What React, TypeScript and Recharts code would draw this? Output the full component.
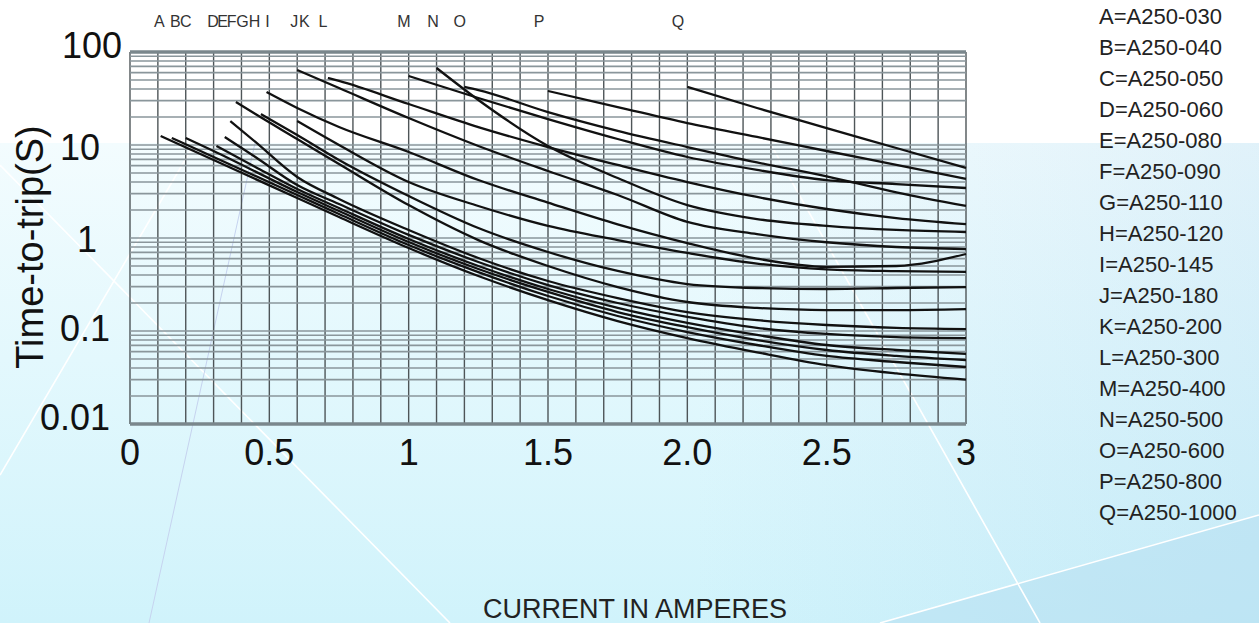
import React from 'react';
import { ComposedChart, Line, Scatter, XAxis, YAxis, CartesianGrid } from 'recharts';

// fuse letters and their part numbers (legend on the right)
const fuseLetters = ['A', 'B', 'C', 'D', 'E', 'F', 'G', 'H', 'I', 'J', 'K', 'L', 'M', 'N', 'O', 'P', 'Q'];
const partNumbers = [
  'A250-030', 'A250-040', 'A250-050', 'A250-060', 'A250-080', 'A250-090', 'A250-110', 'A250-120',
  'A250-145', 'A250-180', 'A250-200', 'A250-300', 'A250-400', 'A250-500', 'A250-600', 'A250-800', 'A250-1000',
];
// where each letter sits along the top (amperes)
const letterX = [0.105, 0.163, 0.2, 0.298, 0.332, 0.365, 0.404, 0.447, 0.493, 0.589, 0.626, 0.692, 0.983, 1.087, 1.183, 1.468, 1.966];

const gridX = [0, 0.1, 0.2, 0.3, 0.4, 0.5, 0.6, 0.7, 0.8, 0.9, 1, 1.1, 1.2, 1.3, 1.4, 1.5, 1.6, 1.7, 1.8, 1.9,
  2, 2.1, 2.2, 2.3, 2.4, 2.5, 2.6, 2.7, 2.8, 2.9, 3];
const gridY = [0.01, 0.02, 0.03, 0.04, 0.05, 0.06, 0.07, 0.08, 0.09, 0.1, 0.2, 0.3, 0.4, 0.5, 0.6, 0.7, 0.8, 0.9,
  1, 2, 3, 4, 5, 6, 7, 8, 9, 10, 20, 30, 40, 50, 60, 70, 80, 90, 100];
const decades = [0.01, 0.1, 1, 10, 100];
const decadeLabels = ['0.01', '0.1', '1', '10', '100'];
const xLabelValues = [0, 0.5, 1, 1.5, 2, 2.5, 3];
const xLabelTexts = ['0', '0.5', '1', '1.5', '2.0', '2.5', '3'];

// [current A, time-to-trip s]
const curveA = [[0.11, 12.5], [0.3, 6.9], [0.6, 2.69], [0.75, 1.68], [1, 0.78], [1.25, 0.39], [1.5, 0.215], [1.75, 0.128], [2, 0.084], [2.25, 0.059], [2.5, 0.043], [2.75, 0.035], [3, 0.03]];
const curveB = [[0.15, 11.9], [0.3, 7.43], [0.6, 2.9], [0.75, 1.81], [1, 0.84], [1.25, 0.43], [1.5, 0.238], [1.75, 0.145], [2, 0.0975], [2.25, 0.0707], [2.5, 0.0539], [2.75, 0.0464], [3, 0.041]];
const curveC = [[0.2, 11.9], [0.3, 8.62], [0.6, 3.12], [0.75, 1.95], [1, 0.905], [1.25, 0.464], [1.5, 0.263], [1.75, 0.16], [2, 0.11], [2.25, 0.08], [2.5, 0.0625], [2.75, 0.054], [3, 0.0488]];
const curveD = [[0.31, 9.76], [0.45, 5.8], [0.6, 3.36], [0.75, 2.1], [1, 0.976], [1.25, 0.5], [1.5, 0.283], [1.75, 0.177], [2, 0.122], [2.25, 0.0906], [2.5, 0.0707], [2.75, 0.0625], [3, 0.0566]];
const curveE = [[0.34, 12.2], [0.45, 7.43], [0.6, 3.71], [0.75, 2.32], [1, 1.08], [1.25, 0.552], [1.5, 0.312], [1.75, 0.2], [2, 0.1415], [2.25, 0.108], [2.5, 0.0929], [2.75, 0.086], [3, 0.084]];
const curveF = [[0.36, 18.1], [0.45, 10.8], [0.6, 4.53], [0.75, 2.63], [1, 1.22], [1.25, 0.61], [1.5, 0.345], [1.75, 0.226], [2, 0.16], [2.25, 0.131], [2.5, 0.116], [2.75, 0.108], [3, 0.105]];
const curveG = [[0.38, 29], [0.45, 21.5], [0.6, 11.6], [0.75, 6.25], [1, 2.26], [1.25, 0.95], [1.5, 0.5], [1.75, 0.297], [2, 0.205], [2.25, 0.177], [2.5, 0.168], [2.75, 0.168], [3, 0.172]];
const curveH = [[0.47, 21.5], [0.6, 12.8], [0.75, 6.9], [1, 2.83], [1.25, 1.28], [1.5, 0.707], [1.75, 0.442], [2, 0.32], [2.25, 0.29], [2.5, 0.283], [2.75, 0.29], [3, 0.297]];
const curveI = [[0.49, 37.1], [0.6, 25], [0.75, 15.6], [1, 8.41], [1.25, 4.2], [1.5, 2.4], [1.75, 1.4], [2, 0.88], [2.25, 0.6], [2.5, 0.49], [2.75, 0.5], [3, 0.673]];
const curveJ = [[0.6, 64], [0.75, 41], [1, 19.5], [1.25, 9.76], [1.5, 5.25], [1.75, 2.9], [2, 1.49], [2.25, 1.1], [2.5, 0.9], [2.75, 0.8], [3, 0.76]];
const curveK = [[0.6, 18.1], [0.75, 10], [1, 4], [1.25, 2.21], [1.5, 1.35], [1.75, 0.95], [2, 0.69], [2.25, 0.53], [2.5, 0.46], [2.75, 0.44], [3, 0.432]];
const curveL = [[0.71, 52.5], [0.75, 48.8], [1, 27.6], [1.25, 15.6], [1.5, 9.51], [1.75, 6.1], [2, 4], [2.25, 2.76], [2.5, 2.05], [2.75, 1.64], [3, 1.41]];
const curveM = [[1, 55.2], [1.25, 32], [1.5, 19], [1.75, 11.6], [2, 7.43], [2.25, 5.4], [2.5, 4.2], [2.75, 3.8], [3, 3.45]];
const curveN = [[1.1, 67.3], [1.25, 30.5], [1.5, 9.76], [1.75, 4.42], [2, 2.26], [2.25, 1.6], [2.5, 1.35], [2.75, 1.22], [3, 1.16]];
const curveO = [[1.2, 42.1], [1.25, 39], [1.5, 22.6], [1.75, 14.2], [2, 9.51], [2.25, 6.5], [2.5, 4.6], [2.75, 3.1], [3, 2.21]];
const curveP = [[1.5, 38.1], [1.75, 25.6], [2, 17.2], [2.25, 12.2], [2.5, 8.62], [2.75, 6.1], [3, 4.31]];
const curveQ = [[2, 42.1], [2.25, 25], [2.5, 15.2], [2.75, 9.28], [3, 5.66]];

const curves = [curveA, curveB, curveC, curveD, curveE, curveF, curveG, curveH, curveI,
  curveJ, curveK, curveL, curveM, curveN, curveO, curveP, curveQ];

const toRows = (pts: number[][]) => pts.map(([amps, secs]) => ({ amps, secs }));
// letters sit on the top edge (100 s) of the plot
const letterRows = letterX.map((amps, i) => ({ amps, secs: 100, letter: fuseLetters[i] }));

const FONT = '"Liberation Sans", Arial, sans-serif';

// label tweaks for the decade numbers (right edge offset, baseline offset)
const decadeDx = [-12, -12, -25, -22, 0];
const decadeDy = [6, 10, 14, 15, 6];

function YTick(props: any) {
  const { x, y, payload } = props;
  const i = decades.indexOf(payload.value);
  if (i < 0) return <g />;
  return (
    <text x={x + decadeDx[i]} y={y + decadeDy[i]} textAnchor="end" fontSize={36} fontFamily={FONT} fill="#111">
      {decadeLabels[i]}
    </text>
  );
}

function XTick(props: any) {
  const { x, y, payload } = props;
  const i = xLabelValues.indexOf(payload.value);
  if (i < 0) return <g />;
  return (
    <text x={x} y={y + 33} textAnchor="middle" fontSize={36} fontFamily={FONT} fill="#111">
      {xLabelTexts[i]}
    </text>
  );
}

function LetterMark(props: any) {
  const { cx, cy, payload } = props;
  if (cx == null || cy == null) return <g />;
  return (
    <text x={cx} y={cy - 25} textAnchor="middle" fontSize={16} fontFamily={FONT} fill="#333">
      {payload.letter}
    </text>
  );
}

export default function App() {
  return (
    <div style={{ position: 'absolute', left: 0, top: 0, width: 1259, height: 623, overflow: 'hidden', background: '#fff', fontFamily: FONT }}>
      <div
        style={{
          position: 'absolute', left: 0, top: 143, width: 1259, height: 480,
          background: 'linear-gradient(90deg, rgba(255,255,255,0) 55%, rgba(140,195,230,0.18) 100%), linear-gradient(180deg, #f3fcfe 0%, #e3f8fd 45%, #d0f3fb 100%)',
        }}
      />
      <svg width={1259} height={623} style={{ position: 'absolute', left: 0, top: 0 }}>
        <polygon points="880,623 1259,515 1259,623" fill="#b9e1f2" opacity={0.6} />
        <line x1={0} y1={165} x2={450} y2={623} stroke="#fff" strokeWidth={1.6} />
        <line x1={195} y1={143} x2={0} y2={475} stroke="#fff" strokeWidth={1.6} />
        <line x1={255} y1={143} x2={149} y2={623} stroke="#c6d3ef" strokeWidth={1} />
        <line x1={770} y1={143} x2={1040} y2={623} stroke="#fff" strokeWidth={1.6} />
        <line x1={880} y1={623} x2={1259} y2={515} stroke="#fff" strokeWidth={1.6} />
      </svg>

      <div style={{ position: 'absolute', left: 0, top: 0 }}>
        <ComposedChart width={1259} height={623} margin={{ top: 52, right: 293, bottom: 159, left: 60 }}>
          <CartesianGrid horizontal={false} stroke="#4e5558" strokeWidth={1.4} />
          <CartesianGrid vertical={false} stroke="#8a969b" strokeWidth={1.6} />
          <CartesianGrid vertical={false} yAxisId="dec" stroke="#7a878c" strokeWidth={3.5} />
          <XAxis
            dataKey="amps" type="number" domain={[0, 3]} ticks={gridX} interval={0}
            tick={<XTick />} tickLine={false} axisLine={false} height={40}
          />
          <YAxis
            type="number" scale="log" domain={[0.01, 100]} ticks={gridY} interval={0}
            tick={<YTick />} tickLine={false} axisLine={false} width={70}
          />
          <YAxis yAxisId="dec" hide type="number" scale="log" domain={[0.01, 100]} ticks={decades} interval={0} />
          {curves.map((c, i) => (
            <Line
              key={fuseLetters[i]}
              data={toRows(c)}
              dataKey="secs"
              type="monotone"
              stroke="#111"
              strokeWidth={2.3}
              dot={false}
              activeDot={false}
              isAnimationActive={false}
            />
          ))}
          <Scatter data={letterRows} dataKey="secs" shape={<LetterMark />} isAnimationActive={false} />
        </ComposedChart>
      </div>

      <div
        style={{
          position: 'absolute', left: 30, top: 247, transform: 'translate(-50%, -50%) rotate(-90deg)',
          fontSize: 38, color: '#111', whiteSpace: 'nowrap', lineHeight: 1,
        }}
      >
        Time-to-trip(S)
      </div>

      <div style={{ position: 'absolute', left: 1099, top: 1, fontSize: 22, lineHeight: '31px', color: '#222' }}>
        {fuseLetters.map((l, i) => (
          <div key={l} style={{ whiteSpace: 'nowrap' }}>{l}={partNumbers[i]}</div>
        ))}
      </div>

      <div
        style={{
          position: 'absolute', left: 635, top: 609, transform: 'translate(-50%, -50%)',
          fontSize: 27, color: '#222', whiteSpace: 'nowrap', lineHeight: 1,
        }}
      >
        CURRENT IN AMPERES
      </div>
    </div>
  );
}
